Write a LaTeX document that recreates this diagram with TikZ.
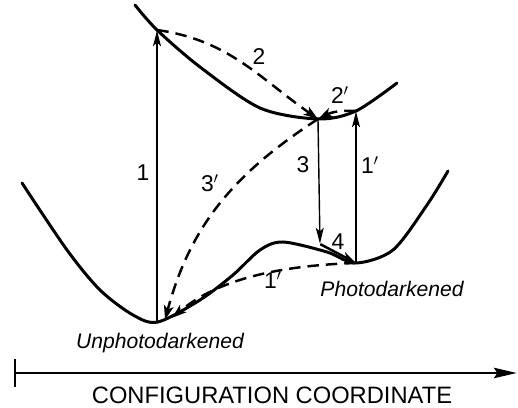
\documentclass[tikz,border=0pt]{standalone}
\usepackage{fontspec}
\setmainfont{Liberation Sans}
\usetikzlibrary{arrows.meta}

\begin{document}
\begin{tikzpicture}[x=0.02cm,y=0.02cm,
	pt/.style={ inner sep=0pt, minimum size=0pt },
	curve/.style={ line width=1.7pt, line cap=round },
	trans/.style={ line width=0.8pt, -{Stealth[length=9pt,width=4.5pt,inset=2pt]} },
	relax/.style={ line width=1.4pt, dash pattern=on 6.5pt off 4pt, -{Stealth[length=8pt,width=5.5pt,inset=2pt]} },
	num/.style={ font=\fontsize{13}{15}\selectfont },
	statename/.style={ font=\fontsize{12}{14}\selectfont\itshape }
]
\useasboundingbox (0,0) rectangle (518,408);

% potential curves
\draw[curve] plot[smooth] coordinates {(135,403) (157,378) (200,341) (260,300) (318,289) (356,297) (397,325)};
\draw[curve] plot[smooth] coordinates {(22,225) (67,158) (100,118) (133,93) (158,86) (200,108) (233,133) (260,158) (283,166) (327,156) (356,145) (393,158) (427,203) (448,237)};

\node at (157,378) (A) [pt] {};
\node at (318,289) (U) [pt] {};
\node at (356,297) (B) [pt] {};
\node at (157,86) (G) [pt] {};
\node at (356,145) (P) [pt] {};
\node at (320,164) (Q) [pt] {};
\node at (165,88) (G3) [pt] {};
\node at (172,90) (G1) [pt] {};

% optical transitions
\draw[trans] (G) -- (A);
\draw[trans] (U) -- (Q);
\draw[trans] (P) -- (B);
\draw[line width=1.4pt, -{Stealth[length=8pt,width=5pt,inset=2pt]}] (Q) -- (P);

% relaxations
\draw[relax] (A) to [out=-8,in=145] (U);
\draw[relax] (B) to [bend right=15] (U);
\draw[relax] (U) to [out=213,in=75] (G3);
\draw[relax] (P) .. controls (300,143) and (225,135) .. (G1);

\node at (143,235) (l1) [num] {1};
\node at (259,351) (l2) [num] {2};
\node at (340,313) (l2p) [num] {2$'$};
\node at (303,243) (l3) [num] {3};
\node at (370,243) (l1p) [num] {1$'$};
\node at (210,225) (l3p) [num] {3$'$};
\node at (338,166) (l4) [num] {4};
\node at (273,128) (l1pp) [num] {1$'$};
\node at (160,65) (ulabel) [statename] {Unphotodarkened};
\node at (392,119) (plabel) [statename] {Photodarkened};

% axis
\node at (15,35) (O) [pt] {};
\node at (517,35) (X) [pt] {};
\draw[line width=0.8pt, -{Stealth[length=13pt,width=6pt,inset=2pt]}] (O) -- (X);
\draw[line width=0.8pt] (O) ++(0,14) -- ++(0,-28);
\node at (272,13) (axlabel) [font=\fontsize{13.5}{16}\selectfont] {CONFIGURATION COORDINATE};

\end{tikzpicture}
\end{document}
